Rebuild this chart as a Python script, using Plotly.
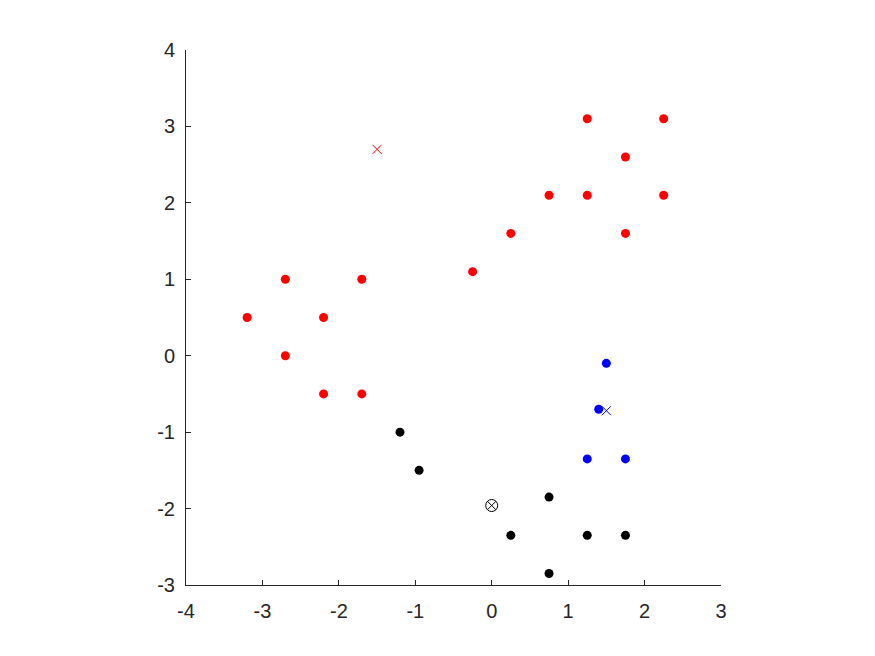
import plotly.graph_objects as go

# Data
red_x = [1.25, 2.25, 1.75, 0.75, 1.25, 2.25, 0.25, 1.75, -0.25, -2.7, -1.7, -3.2, -2.2, -2.7, -2.2, -1.7]
red_y = [3.1, 3.1, 2.6, 2.1, 2.1, 2.1, 1.6, 1.6, 1.1, 1.0, 1.0, 0.5, 0.5, 0.0, -0.5, -0.5]
blue_x = [1.5, 1.4, 1.25, 1.75]
blue_y = [-0.1, -0.7, -1.35, -1.35]
black_x = [-1.2, -0.95, 0.75, 0.25, 1.25, 1.75, 0.75]
black_y = [-1.0, -1.5, -1.85, -2.35, -2.35, -2.35, -2.85]
red_center = ([-1.5], [2.7])
blue_center = ([1.5], [-0.72])
black_center = ([0.0], [-1.96])

ticks = [-4, -3, -2, -1, 0, 1, 2, 3, 4]

fig = go.Figure()
fig.add_trace(go.Scatter(x=red_x, y=red_y, mode="markers",
                         marker=dict(color="#FF0000", size=9, symbol="circle", line=dict(width=0))))
fig.add_trace(go.Scatter(x=blue_x, y=blue_y, mode="markers",
                         marker=dict(color="#0000FF", size=9, symbol="circle", line=dict(width=0))))
fig.add_trace(go.Scatter(x=black_x, y=black_y, mode="markers",
                         marker=dict(color="#000000", size=9, symbol="circle", line=dict(width=0))))
fig.add_trace(go.Scatter(x=red_center[0], y=red_center[1], mode="markers",
                         marker=dict(color="#FF0000", size=9, symbol="x-thin",
                                     line=dict(width=1, color="#FF0000"))))
fig.add_trace(go.Scatter(x=blue_center[0], y=blue_center[1], mode="markers",
                         marker=dict(color="#0000FF", size=9, symbol="x-thin",
                                     line=dict(width=1, color="#0000FF"))))
fig.add_trace(go.Scatter(x=black_center[0], y=black_center[1], mode="markers",
                         marker=dict(color="#000000", size=12, symbol="circle-x-open",
                                     line=dict(width=1, color="#000000"))))

axis_common = dict(
    showgrid=False, zeroline=False, showline=True, linecolor="#262626", linewidth=1,
    ticks="inside", ticklen=5, tickcolor="#262626", mirror=False,
    tickfont=dict(family="Arial, Liberation Sans, sans-serif", size=20, color="#262626"),
    tickmode="array", tickvals=ticks, ticktext=[str(t) for t in ticks],
)

fig.update_layout(
    width=875, height=656,
    margin=dict(l=186, r=154, t=50, b=71),
    paper_bgcolor="white", plot_bgcolor="white",
    showlegend=False,
    xaxis=dict(range=[-4, 3], ticklabelstandoff=8, **axis_common),
    yaxis=dict(range=[-3, 4], ticklabelstandoff=6, **axis_common),
)

fig.write_html("out.html")
